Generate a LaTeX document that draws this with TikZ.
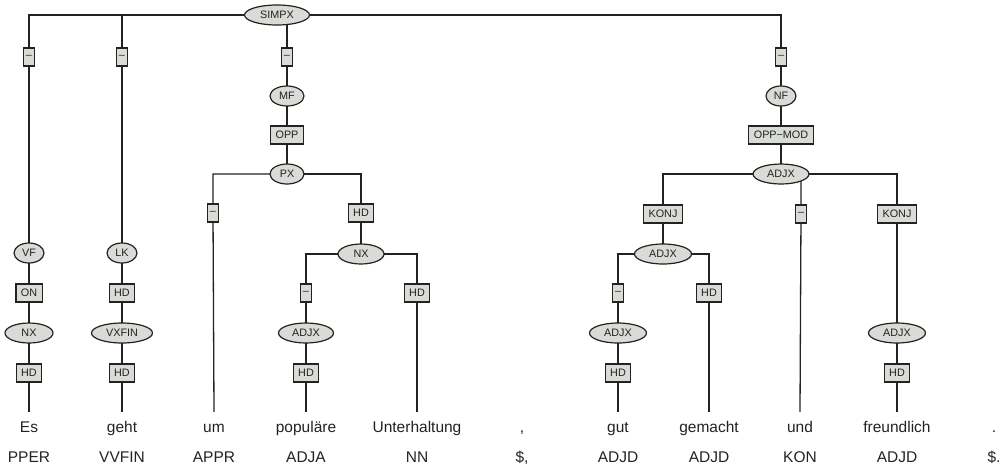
\documentclass[tikz,border=0pt]{standalone}
\usepackage{fontspec}
\setmainfont{Liberation Sans}
\usetikzlibrary{shapes.geometric, backgrounds}
\definecolor{nodegrey}{HTML}{D9DBD6}
\definecolor{inkgrey}{HTML}{222222}
\newcommand{\labfont}{\fontsize{10.8}{12}\selectfont}
\newcommand{\wordfont}{\fontsize{15.5}{18}\selectfont}

\tikzset{
  cat/.style={ellipse, draw=inkgrey, fill=nodegrey, line width=1.2pt, minimum height=20pt, inner sep=0pt, font=\labfont, text=inkgrey},
  fn/.style={rectangle, draw=inkgrey, fill=nodegrey, line width=1.2pt, minimum height=18pt, inner xsep=5pt, inner ysep=0pt, font=\labfont, text=inkgrey},
  dashfn/.style={fn, inner xsep=2.6pt},
  word/.style={anchor=base, font=\wordfont, text=inkgrey, text height=11pt, inner ysep=9pt, inner xsep=0pt},
  edge/.style={inkgrey, line width=1.3pt}
}

\begin{document}
\begin{tikzpicture}[x=1pt, y=-1pt]
\useasboundingbox (0,0) rectangle (1002,467);

% Root
\node[cat, minimum width=65pt] (simpx) at (277,15) {SIMPX};

% Vorfeld: Es
\node[dashfn] (d1) at (29,57) {–};
\node[cat, minimum width=30pt] (vf) at (29,253) {VF};
\node[fn] (on) at (29,293) {ON};
\node[cat, minimum width=48pt] (nx1) at (29,333) {NX};
\node[fn] (hd1) at (29,373) {HD};

% Linke Klammer: geht
\node[dashfn] (d2) at (122,57) {–};
\node[cat, minimum width=30pt] (lk) at (122,253) {LK};
\node[fn] (hd2) at (122,293) {HD};
\node[cat, minimum width=61pt] (vxfin) at (122,333) {VXFIN};
\node[fn] (hd3) at (122,373) {HD};

% Mittelfeld: um populaere Unterhaltung
\node[dashfn] (d3) at (287,57) {–};
\node[cat, minimum width=34pt] (mf) at (287,96) {MF};
\node[fn] (opp) at (287,135) {OPP};
\node[cat, minimum width=34pt] (px) at (287,174) {PX};
\node[dashfn] (d4) at (213,213) {–};
\node[fn] (hd4) at (361,213) {HD};
\node[cat, minimum width=46pt] (nx2) at (361,254) {NX};
\node[dashfn] (d5) at (306,293) {–};
\node[fn] (hd6) at (417,293) {HD};
\node[cat, minimum width=55pt] (adjx1) at (306,333) {ADJX};
\node[fn] (hd5) at (306,373) {HD};

% Nachfeld: gut gemacht und freundlich
\node[dashfn] (d6) at (781,57) {–};
\node[cat, minimum width=30pt] (nf) at (781,96) {NF};
\node[fn] (oppmod) at (781,135) {OPP−MOD};
\node[cat, minimum width=56pt] (adjx2) at (781,174) {ADJX};
\node[fn] (konj1) at (663,214) {KONJ};
\node[dashfn] (d8) at (801,214) {–};
\node[fn] (konj2) at (897,214) {KONJ};
\node[cat, minimum width=57pt] (adjx3) at (663,254) {ADJX};
\node[dashfn] (d7) at (618,293) {–};
\node[fn] (hd8) at (709,293) {HD};
\node[cat, minimum width=57pt] (adjx4) at (618,333) {ADJX};
\node[fn] (hd7) at (618,373) {HD};
\node[cat, minimum width=57pt] (adjx5) at (897,333) {ADJX};
\node[fn] (hd9) at (897,373) {HD};

% Words and POS tags
\foreach \x/\w/\p [count=\i] in {29/Es/PPER, 122/geht/VVFIN, 214/um/APPR, 306/populäre/ADJA,
    417/Unterhaltung/NN, 522/{,}/{\$,}, 618/gut/ADJD, 709/gemacht/ADJD, 800/und/KON,
    897/freundlich/ADJD, 994/./{\$.}}{
  \node[word] (w\i) at (\x,432) {\w};
  \node[word] (p\i) at (\x,462) {\p};
}

% Edges
\begin{scope}[on background layer]
\draw[edge] (simpx.center) -| (d1.center) -- (vf.center) -- (on.center) -- (nx1.center) -- (hd1.center) -- (w1.north);
\draw[edge] (simpx.center) -| (d2.center) -- (lk.center) -- (hd2.center) -- (vxfin.center) -- (hd3.center) -- (w2.north);
\draw[edge] (simpx.center) -| (d3.center) -- (mf.center) -- (opp.center) -- (px.center);
\draw[edge] (simpx.center) -| (d6.center) -- (nf.center) -- (oppmod.center) -- (adjx2.center);
\draw[edge] (px.center) -| (d4.center) -- (w3.north);
\draw[edge] (px.center) -| (hd4.center) -- (nx2.center);
\draw[edge] (nx2.center) -| (d5.center) -- (adjx1.center) -- (hd5.center) -- (w4.north);
\draw[edge] (nx2.center) -| (hd6.center) -- (w5.north);
\draw[edge] (adjx2.center) -| (konj1.center) -- (adjx3.center);
\draw[edge] (adjx2.center) -| (d8.center) -- (w9.north);
\draw[edge] (adjx2.center) -| (konj2.center) -- (adjx5.center) -- (hd9.center) -- (w10.north);
\draw[edge] (adjx3.center) -| (d7.center) -- (adjx4.center) -- (hd7.center) -- (w7.north);
\draw[edge] (adjx3.center) -| (hd8.center) -- (w8.north);
\end{scope}

\end{tikzpicture}
\end{document}
